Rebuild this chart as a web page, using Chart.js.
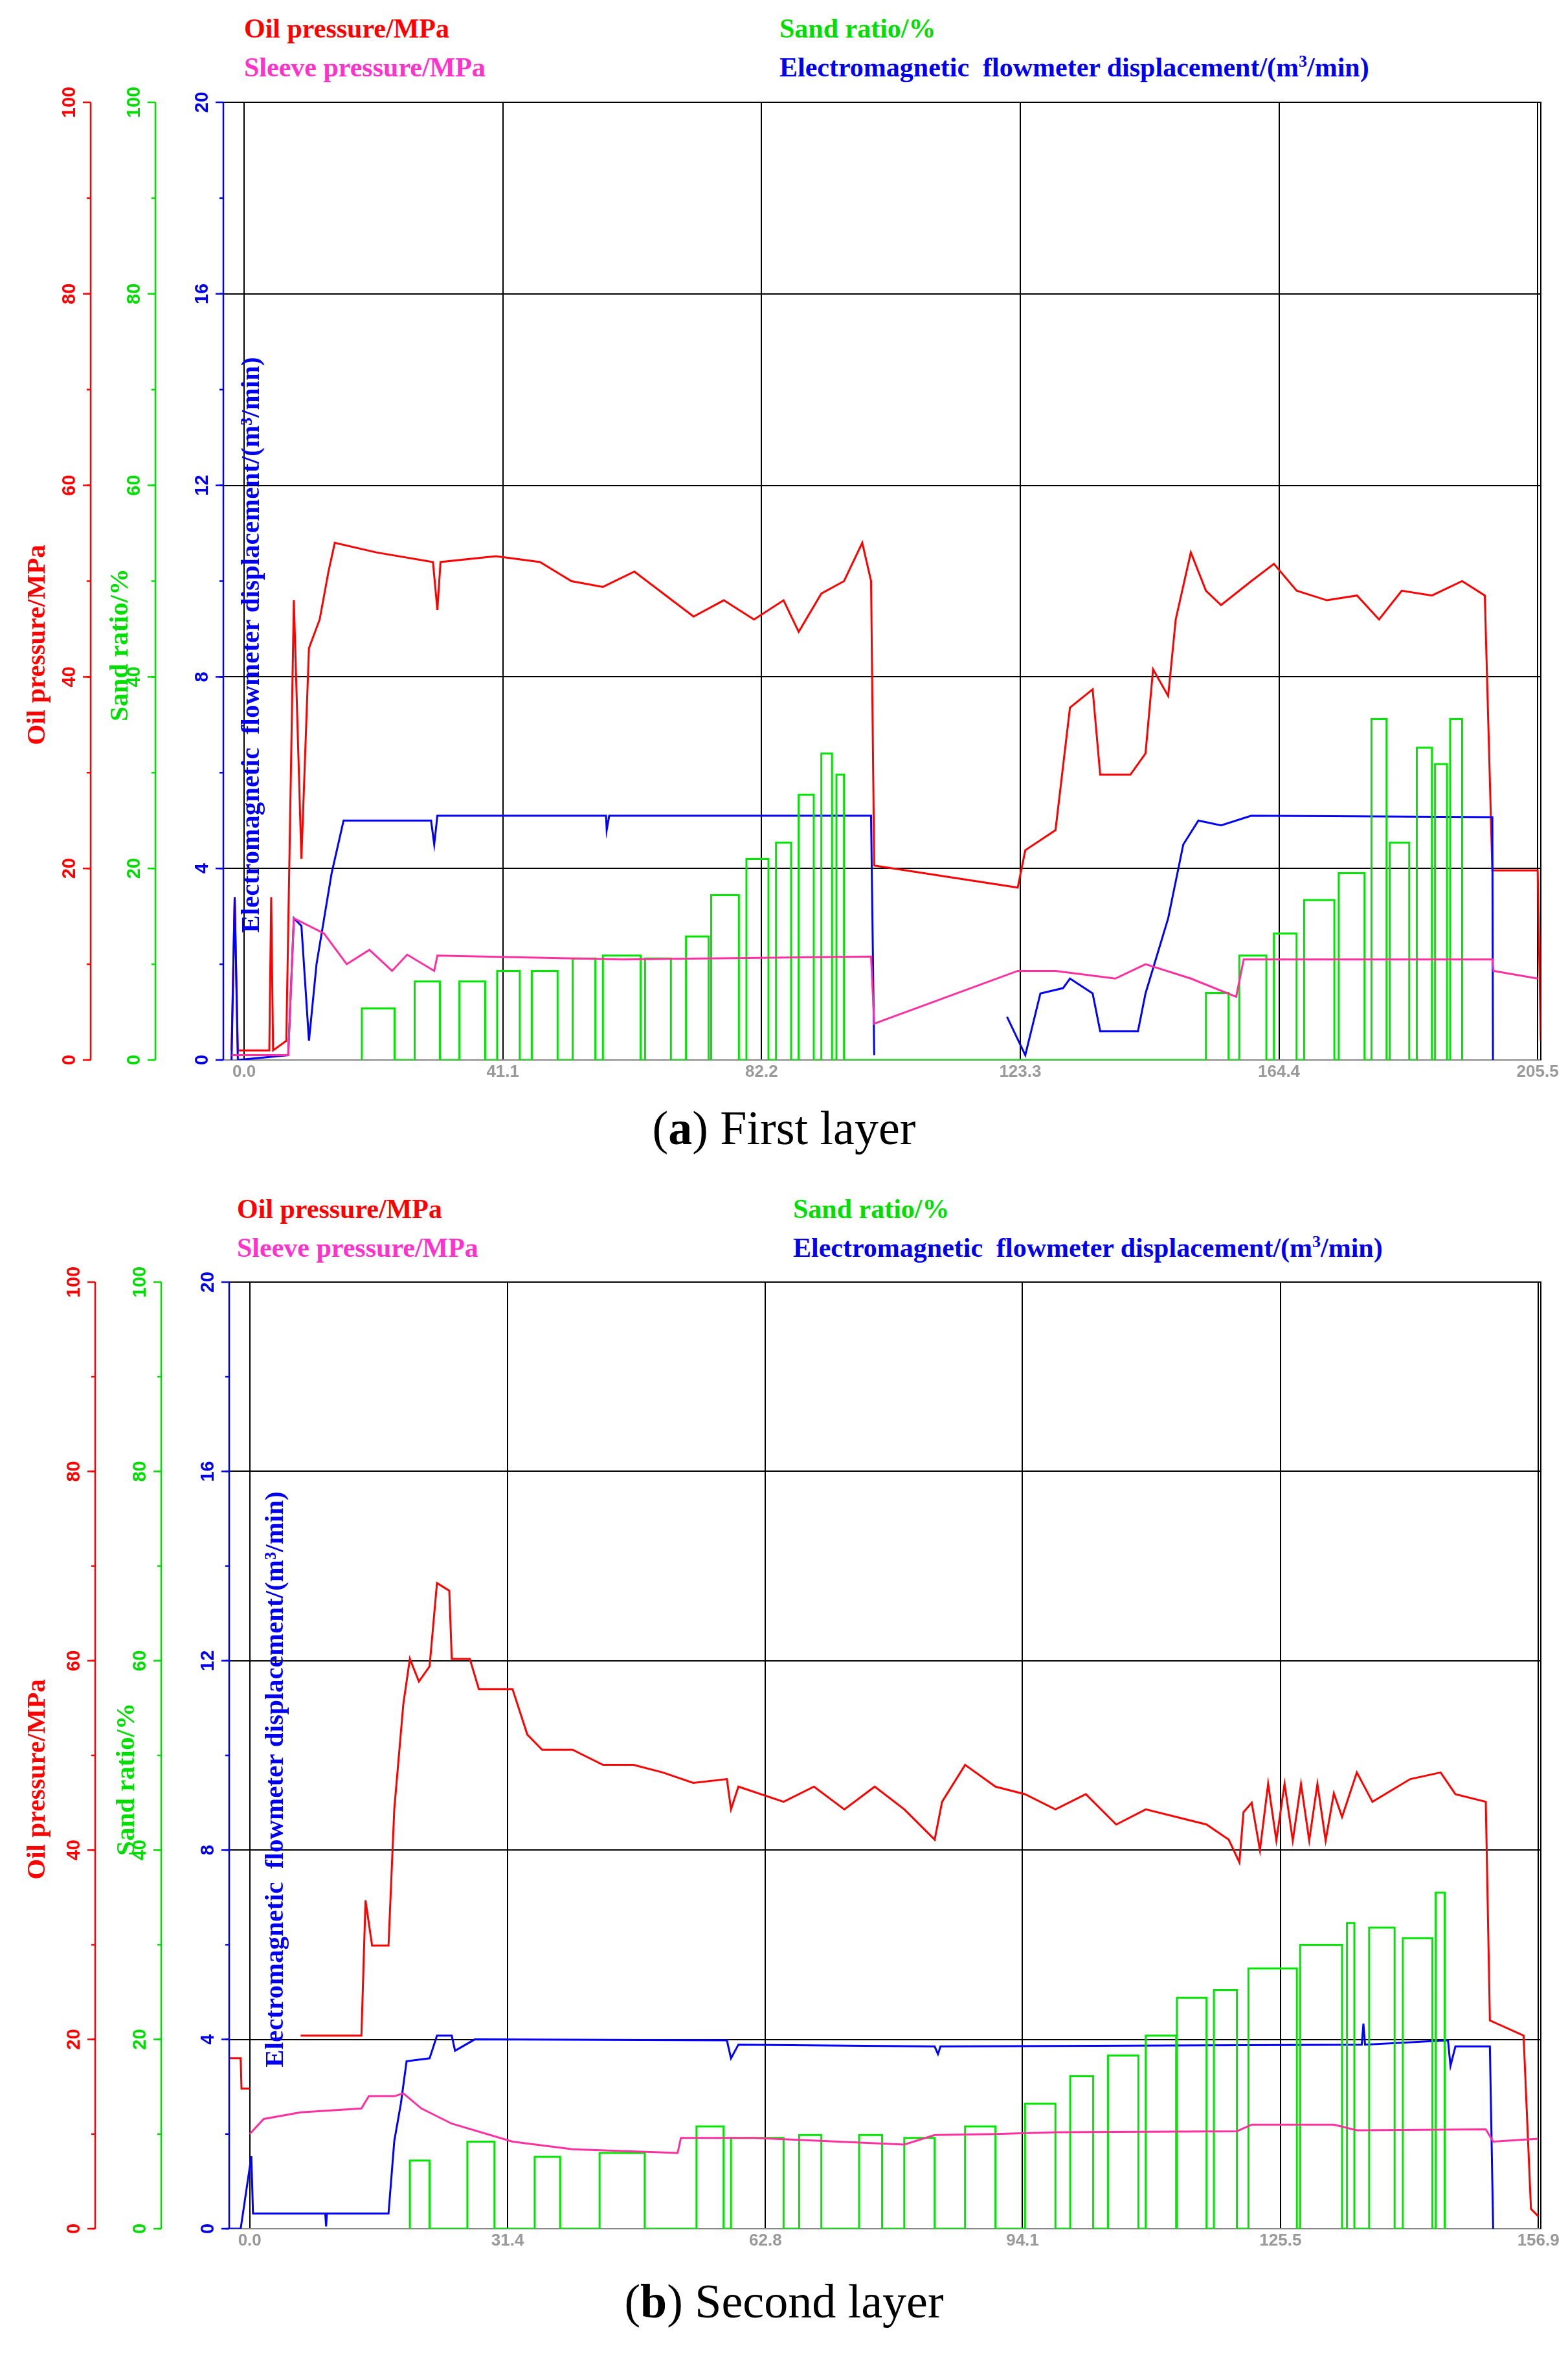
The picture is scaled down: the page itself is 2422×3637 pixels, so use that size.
<!DOCTYPE html>
<html><head><meta charset="utf-8">
<script src="https://cdn.jsdelivr.net/npm/chart.js@4/dist/chart.umd.min.js"></script>
<style>
body{margin:0;width:2422px;height:3637px;background:#fff;position:relative;font-family:"Liberation Serif",serif;overflow:hidden}
.lg{position:absolute;font-weight:bold;font-size:42px;white-space:nowrap}
.cap{position:absolute;font-size:74px;width:2422px;text-align:center;left:150px}
canvas{position:absolute;left:0}
</style></head><body>
<div class="lg" style="left:377px;top:20px;color:#ff0000">Oil pressure/MPa</div>
<div class="lg" style="left:377px;top:80px;color:#ff33cc">Sleeve pressure/MPa</div>
<div class="lg" style="left:1204px;top:20px;color:#00dd00">Sand ratio/%</div>
<div class="lg" style="left:1204px;top:80px;color:#0000ee">Electromagnetic&nbsp; flowmeter displacement/(m<sup style="font-size:26px">3</sup>/min)</div>
<div class="cap" style="top:1700px;left:0">(<b>a</b>) First layer</div>
<div class="lg" style="left:366px;top:1843px;color:#ff0000">Oil pressure/MPa</div>
<div class="lg" style="left:366px;top:1903px;color:#ff33cc">Sleeve pressure/MPa</div>
<div class="lg" style="left:1225px;top:1843px;color:#00dd00">Sand ratio/%</div>
<div class="lg" style="left:1225px;top:1903px;color:#0000ee">Electromagnetic&nbsp; flowmeter displacement/(m<sup style="font-size:26px">3</sup>/min)</div>
<div class="cap" style="top:3512px;left:0">(<b>b</b>) Second layer</div>
<canvas id="ca" style="top:130px" width="2422" height="1560"></canvas>
<canvas id="cb" style="top:1950px" width="2422" height="1545"></canvas>
<script>
// ---- Panel a data ----
const xTicksA=[0.0,41.1,82.2,123.3,164.4,205.5];
const oilA=[[-2,1],[-1.5,17],[-1,1],[4,1],[4.3,17],[4.6,1],[6.7,2],[7.9,48],[9.1,21],[10.3,43],[12,46],[13.4,51],[14.4,54],[21,53],[30,52],[30.7,47],[31.2,52],[40,52.6],[47,52],[52,50],[57,49.4],[62,51],[66.6,48.7],[71.4,46.3],[76.2,48],[81,46],[85.7,48],[88.1,44.7],[91.7,48.7],[95.3,50],[98.2,54],[99.6,50],[100.1,20.3],[122.9,18],[124.1,21.9],[128.9,24],[131.2,36.8],[134.8,38.7],[136,29.8],[140.8,29.8],[143.2,32],[144.4,40.8],[146.8,38],[148,46],[150.4,53],[152.8,49],[155.2,47.5],[160,50],[163.6,51.8],[167.2,49],[172,48],[176.8,48.5],[180.3,46],[183.9,49],[188.7,48.5],[193.5,50],[197.1,48.5],[198.3,19.8],[205.5,19.8],[206,2]];
const sleeveA=[[-2,0.5],[7,0.5],[7.9,14.8],[12.7,13.2],[16.3,10],[19.9,11.5],[23.5,9.3],[25.9,11],[30.2,9.3],[30.7,10.9],[60,10.5],[99.6,10.8],[100.1,3.8],[122.9,9.3],[128.9,9.3],[138.4,8.5],[143.2,10],[150.4,8.5],[157.6,6.6],[158.8,10.5],[198.3,10.5],[198.5,9.3],[205.5,8.5]];
const flowA=[[-2,0],[-1.5,3.4],[-1,0],[7,0.1],[7.9,2.96],[9.1,2.8],[10.3,0.4],[11.5,2.0],[13.9,3.9],[15.8,5.0],[18.7,5.0],[29.7,5.0],[30.2,4.5],[30.7,5.1],[57.5,5.1],[57.6,4.8],[58,5.1],[99.6,5.1],[100.1,0.1],[null,null],[121.2,0.9],[124.1,0.1],[126.5,1.39],[130.1,1.5],[131.2,1.7],[134.8,1.39],[136,0.6],[142,0.6],[143.2,1.39],[146.8,2.96],[149.2,4.5],[151.6,5.0],[155.2,4.9],[160,5.1],[198.3,5.07],[198.4,0]];
const sandA=[[18.7,23.9,5.4],[27.1,31.1,8.2],[34.2,38.3,8.2],[40.2,43.8,9.3],[45.7,49.8,9.3],[52.2,55.8,10.6],[57.0,63.0,10.9],[63.7,67.8,10.6],[70.2,73.8,12.9],[74.2,78.6,17.2],[79.8,83.3,21],[84.5,86.9,22.7],[88.1,90.5,27.7],[91.7,93.4,32],[94.1,95.3,29.8],[152.8,156.4,7],[158.1,162.4,10.9],[163.6,167.2,13.2],[168.4,173.2,16.7],[173.9,178.0,19.5],[179.1,181.5,35.6],[182.0,185.1,22.7],[186.3,188.7,32.6],[189.2,191.1,30.9],[191.6,193.5,35.6]];
// ---- Panel b data ----
const xTicksB=[0.0,31.4,62.8,94.1,125.5,156.9];
const oilB=[[-2.6,18],[-1.1,18],[-1,14.8],[0,14.8],[null,null],[6.2,20.4],[13.6,20.4],[14.1,34.7],[14.9,29.9],[16.9,29.9],[17.6,44.3],[18.7,55.4],[19.5,60.2],[20.6,57.8],[21.9,59.4],[22.8,68.2],[24.3,67.4],[24.6,60.2],[26.8,60.2],[27.9,57],[32,57],[33.8,52.2],[35.6,50.6],[39.3,50.6],[43,49],[46.7,49],[50.3,48.2],[54,47.1],[58.1,47.5],[58.6,44.3],[59.5,46.7],[65,45.1],[68.7,46.7],[72.4,44.3],[76.1,46.7],[79.7,44.3],[83.4,41.1],[84.3,45.1],[87.1,49],[90.8,46.7],[94.4,45.9],[98.1,44.3],[101.8,45.9],[105.5,42.7],[109.1,44.3],[112.8,43.5],[116.5,42.7],[119.2,41.1],[120.5,38.7],[121,44],[122,45],[123,40],[124,47],[125,41],[126,47],[127,41],[128,47],[129,41],[130,47],[131,41],[132,46],[133,43.5],[134.8,48.2],[136.7,45.1],[141.3,47.5],[145,48.2],[146.8,45.9],[150.5,45.1],[151,22],[155.1,20.4],[156,2.1],[156.9,1.3]];
const sleeveB=[[0,10],[1.7,11.6],[6.2,12.3],[13.6,12.7],[14.5,14],[17.6,14],[18.7,14.3],[20.9,12.7],[24.6,11.1],[32,9.2],[39.3,8.4],[52.1,8],[52.5,9.6],[61.4,9.6],[79.7,8.9],[83.4,9.9],[90.8,10],[98.1,10.2],[120.2,10.3],[122,11],[132,11],[134.8,10.4],[150.5,10.5],[151.4,9.2],[156.9,9.5]];
const flowB=[[-2.5,0],[-1.1,0],[0.2,1.53],[0.4,0.32],[9.2,0.32],[9.3,0.05],[9.4,0.32],[16.9,0.32],[17.6,1.85],[18.4,2.64],[19.1,3.54],[21.9,3.6],[22.8,4.08],[24.6,4.08],[25,3.76],[27.4,4.0],[58.1,3.98],[58.6,3.6],[59.5,3.89],[83.4,3.85],[83.8,3.69],[84.1,3.85],[135.4,3.89],[135.6,4.33],[135.8,3.89],[145.9,3.98],[146.2,3.44],[146.8,3.85],[151,3.85],[151.4,0]];
const sandB=[[19.5,21.9,7.2],[26.5,29.8,9.2],[34.7,37.8,7.6],[42.6,48.1,8],[54.4,57.7,10.8],[58.6,65.0,9.6],[66.9,69.6,9.9],[74.2,77.0,9.9],[79.7,83.4,9.6],[87.1,90.8,10.8],[94.4,98.1,13.2],[99.9,102.7,16.1],[104.5,108.2,18.3],[109.1,112.8,20.4],[112.9,116.5,24.4],[117.4,120.2,25.2],[121.6,127.5,27.5],[127.9,133.0,30],[133.6,134.5,32.3],[136.3,139.4,31.8],[140.4,144.0,30.7],[144.4,145.5,35.5]];
const redTicks=[0,20,40,60,80,100], blueTicks=[0,4,8,12,16,20];

const pts=a=>a.map(p=>({x:p[0],y:p[1]}));
const pulses=a=>{const r=[];a.forEach(([s,e,v])=>{r.push({x:s,y:0},{x:s,y:v},{x:e,y:v},{x:e,y:0});});return r;};

function make(id,xt,xmin,xmax,data,opts){
  const axisPlugin={id:'ax',afterDraw(c){
    const g=c.ctx,ca=c.chartArea,yb=c.scales.y,yr=c.scales.yR;
    g.save();
    const drawAxis=(x,col,ticks,scale)=>{
      g.strokeStyle=col;g.lineWidth=2.5;g.beginPath();g.moveTo(x,ca.top);g.lineTo(x,ca.bottom);g.stroke();
      g.fillStyle=col;g.font='bold 29px "Liberation Sans",sans-serif';
      ticks.forEach(v=>{const y=scale.getPixelForValue(v);
        g.beginPath();g.moveTo(x,y);g.lineTo(x-12,y);g.stroke();
        g.save();g.translate(x-32,y);g.rotate(-Math.PI/2);g.textAlign='center';g.textBaseline='middle';g.fillText(String(v),0,0);g.restore();});
      for(let v=ticks[0];v<ticks[ticks.length-1];v+=(ticks[1]-ticks[0])/2){const y=scale.getPixelForValue(v);g.beginPath();g.moveTo(x,y);g.lineTo(x-6,y);g.stroke();}
    };
    drawAxis(opts.redX,'#ff0000',redTicks,yr);
    drawAxis(opts.greenX,'#00dd00',redTicks,yr);
    drawAxis(ca.left,'#0000ee',blueTicks,yb);
    const title=(t,x,col)=>{g.save();g.translate(x,opts.titleY);g.rotate(-Math.PI/2);g.fillStyle=col;g.font='bold 41px "Liberation Serif",serif';g.textAlign='center';g.textBaseline='middle';g.fillText(t,0,0);g.restore();};
    title('Oil pressure/MPa',opts.oilTX,'#ff0000');
    title('Sand ratio/%',opts.sandTX,'#00dd00');
    title('Electromagnetic  flowmeter displacement/(m³/min)',opts.blueTX,'#0000ee');
    g.restore();
  }};
  const ds=(d,col,ax)=>({data:d,borderColor:col,borderWidth:3,pointRadius:0,showLine:true,yAxisID:ax,spanGaps:false,tension:0});
  return new Chart(document.getElementById(id),{type:'scatter',
    data:{datasets:[ds(pts(data.sleeve),'#ff2fa0','yR'),ds(pulses(data.sand),'#00e600','yR'),ds(pts(data.flow),'#0000ff','y'),ds(pts(data.oil),'#ff0000','yR')]},
    options:{responsive:false,animation:false,layout:{padding:{top:opts.padTop,right:42,left:0,bottom:0}},
      plugins:{legend:{display:false},tooltip:{enabled:false}},
      scales:{
        x:{type:'linear',min:xmin,max:xmax,afterBuildTicks:s=>{s.ticks=xt.map(v=>({value:v}));},
           afterFit:s=>{s.height=53;},
           ticks:{color:'#999',font:{size:26,weight:'bold',family:'"Liberation Sans",sans-serif'},callback:v=>v.toFixed(1),maxRotation:0,autoSkip:false},
           grid:{color:'#000',lineWidth:2,drawTicks:false},border:{color:'#888',width:2}},
        y:{min:0,max:20,afterBuildTicks:s=>{s.ticks=blueTicks.map(v=>({value:v}));},afterFit:s=>{s.width=opts.left;},
           ticks:{display:false},grid:{color:c=>(c.tick.value===0?'rgba(0,0,0,0)':'#000'),lineWidth:2,drawTicks:false},border:{display:false}},
        yR:{min:0,max:100,display:false}
      }},plugins:[axisPlugin,{id:'frame',afterDraw(c){const g=c.ctx,a=c.chartArea;g.save();g.strokeStyle='#000';g.lineWidth=2;g.beginPath();g.moveTo(a.left,a.top);g.lineTo(a.right,a.top);g.lineTo(a.right,a.bottom);g.stroke();g.restore();}}]});
}
make('ca',xTicksA,-3.3,206,{oil:oilA,sleeve:sleeveA,flow:flowA,sand:sandA},{left:345,padTop:28,redX:140,greenX:240,titleY:866,oilTX:58,sandTX:186,blueTX:389});
make('cb',xTicksB,-2.5,157.2,{oil:oilB,sleeve:sleeveB,flow:flowB,sand:sandB},{left:354,padTop:30,redX:147,greenX:249,titleY:798,oilTX:58,sandTX:196,blueTX:426});
</script></body></html>
